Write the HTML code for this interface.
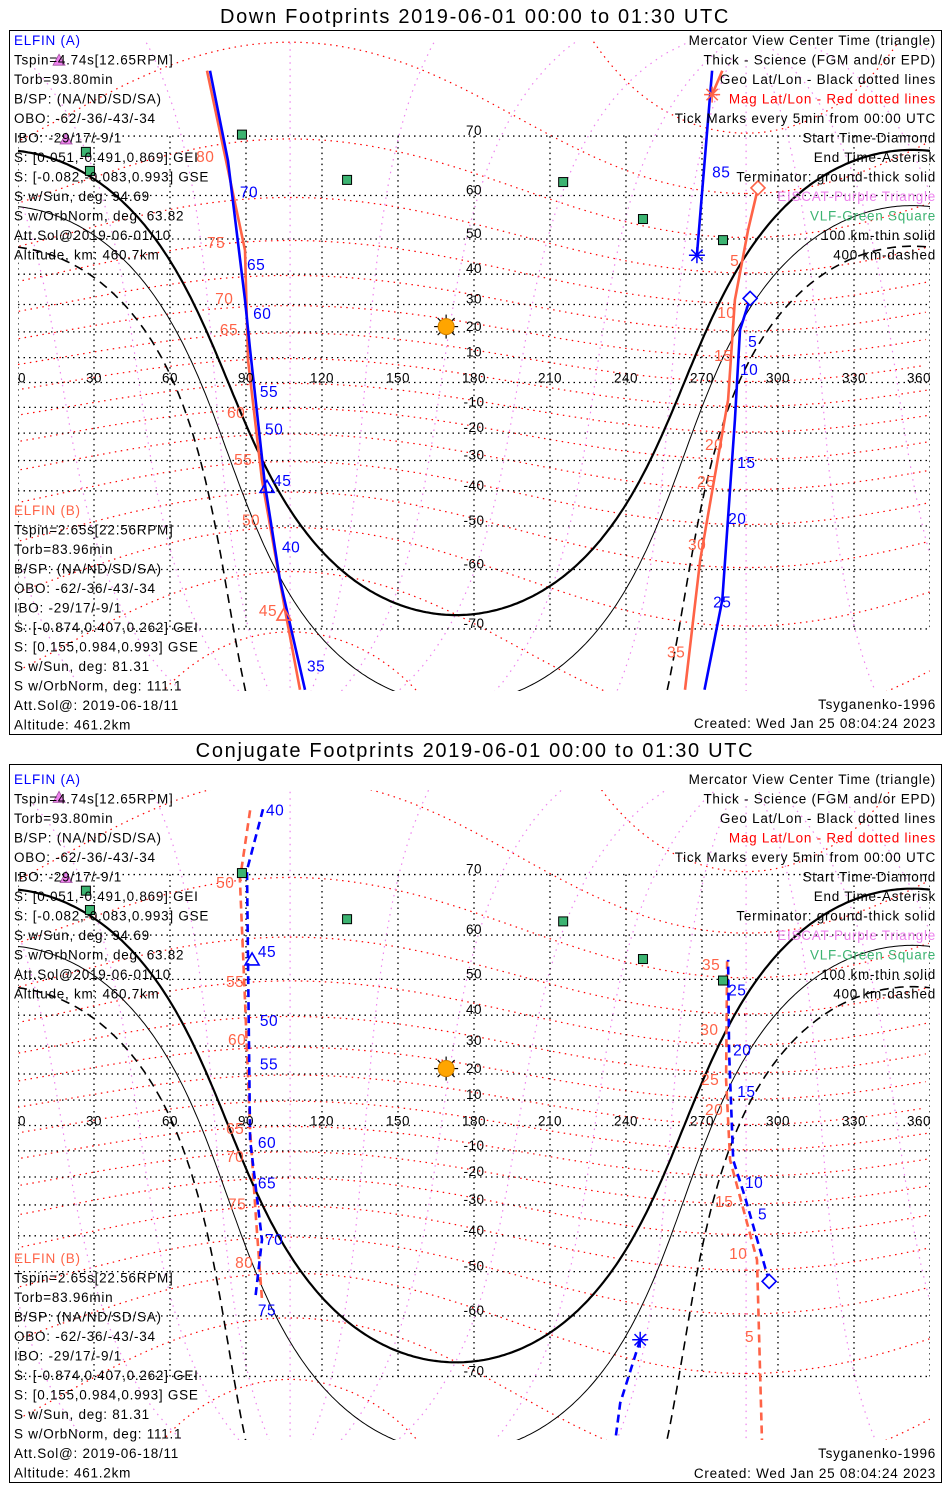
<!DOCTYPE html>
<html><head><meta charset="utf-8">
<style>
html,body{margin:0;padding:0;background:#fff;width:950px;height:1500px;overflow:hidden;}
svg{display:block;font-family:"Liberation Sans",sans-serif;}
</style></head>
<body>
<svg id="chart" width="950" height="1500" viewBox="0 0 950 1500" xmlns="http://www.w3.org/2000/svg">
<rect x="0" y="0" width="950" height="1500" fill="#fff"/>
<text x="475" y="23" font-size="20" letter-spacing="1.7" text-anchor="middle">Down Footprints 2019-06-01 00:00 to 01:30 UTC</text>
<text x="475" y="757" font-size="20" letter-spacing="1.7" text-anchor="middle">Conjugate Footprints 2019-06-01 00:00 to 01:30 UTC</text>
<rect x="9.5" y="30.5" width="932" height="704" fill="none" stroke="#000"/>
<rect x="9.5" y="764.5" width="932" height="718" fill="none" stroke="#000"/>
<defs>
<clipPath id="clipTop"><rect x="18" y="40" width="912" height="651"/></clipPath>
<clipPath id="clipBot"><rect x="18" y="790" width="912" height="650"/></clipPath>
</defs>
<g id="mapTop" clip-path="url(#clipTop)"></g>
<g id="mapBot" clip-path="url(#clipBot)"></g>
<g id="overTop"></g>
<g id="overBot"></g>
<g id="texts"></g>
</svg>
<script>
// ---------- data ----------
const lonTicks = [0,30,60,90,120,150,180,210,240,270,300,330,360];
const latTicks = [70,60,50,40,30,20,10,0,-10,-20,-30,-40,-50,-60,-70];
const sunLon = 169, sunLat = 22;
const termLon = 173, sunDecl = 22;
const termDips = [0, 10.1, 19.9]; // ground, 100 km, 400 km
const magLats = [-80,-70,-60,-50,-40,-30,-20,-10,0,10,20,30,40,50,60,70,80];
const magLons = [0,30,60,90,120,150,180,210,240,270,300,330];
const stationLon = [88.4,26.8,28.4,129.9,215.2,246.7,278.3];
const stationLat = [70.2,67.7,64.6,63.0,62.6,54.9,49.7];
const eiscatLon = [16.2,19.0];
const eiscatLat = [78.2,69.6];

// Down footprints, ELFIN A
const dA1Lon = [75.8,82.9,89.6,91.6,97.5,103.4,113.3];
const dA1Lat = [77.3,66.3,31.6,13.1,-38.2,-62,-76.9];
const dA1TickLon = [87.6,90.4,92.8,95.5,97.5,100.7,104.2,114.1];
const dA1TickLat = [60.6,42.8,26.6,-3.8,-18.7,-36.9,-55.3,-74.6];
const dA1Labels = ["70","65","60","55","50","45","40","35"];
const dA2Lon = [274,268];
const dA2Lat = [77.3,45.6];
const dA2TickLon = [274]; const dA2TickLat = [64.3]; const dA2Labels = ["85"];
const dA3Lon = [289,285,283,278,271];
const dA3Lat = [32.1,20.7,-15,-65.6,-76.9];
const dA3TickLon = [288.2,285,283.9,280.3,274.4];
const dA3TickLat = [16.2,5,-30.9,-48.2,-66];
const dA3Labels = ["5","10","15","20","25"];
const dACenter = [98.3,-38.9];
// Down footprints, ELFIN B
const dB1Lon = [74.6,89.6,90.8,96.3,105.4,111.3];
const dB1Lat = [77.3,47,9.1,-36.6,-67.2,-76.9];
const dB1TickLon = [70.3,74.6,77.8,79.7,82.5,85.3,88.4,95.1];
const dB1TickLat = [66.9,48.9,31.9,20.7,-12.2,-29.8,-48.5,-67.4];
const dB1Labels = ["80","75","70","65","60","55","50","45"];
const dB2Lon = [292.1,288.2,283,280.3,269.3,263.3];
const dB2Lat = [61.5,52.3,31.6,-7,-58,-76.9];
const dB2TickLon = [281.1,276,274.8,271.2,268.1,264.5,256.2];
const dB2TickLat = [43.9,27,10.7,-24.4,-37.2,-54.7,-73];
const dB2Labels = ["5","10","15","20","25","30","35"];
const dB3Lon = [278,274]; const dB3Lat = [77.3,75];
const dBCenter = [105,-68];

// Conjugate footprints, ELFIN A
const cA1Lon = [96.7,90.4,90.8,91.6,96.3,93.6];
const cA1Lat = [77.2,70.6,54.7,-5.7,-41.2,-56.7];
const cA1TickLon = [97.9,94.7,95.5,95.5,94.7,94.7,97.5,94.7];
const cA1TickLat = [77.1,56.5,38.2,23.5,-6.9,-22.4,-41.2,-58.9];
const cA1Labels = ["40","45","50","55","60","65","70","75"];
const cA2Lon = [296.5,287,282.3,280.7,280.3];
const cA2Lat = [-52.4,-27.4,-13.6,27.8,54.7];
const cA2TickLon = [292.1,287,283.9,282.3,280.3];
const cA2TickLat = [-33.2,-22.2,13.2,28.4,47.1];
const cA2Labels = ["5","10","15","20","25"];
const cA3Lon = [245.6,237.7,235.7];
const cA3Lat = [-64.4,-73.3,-77.2];
const cACenter = [92.4,54.7];
// Conjugate footprints, ELFIN B
const cB1Lon = [91.6,87.6,89.6,91.6,94,96.3];
const cB1Lat = [77.1,69.3,44.3,-1.8,-35,-56.7];
const cB1TickLon = [78.2,82.1,82.9,82.1,82.1,82.9,85.7];
const cB1TickLat = [68.8,49.3,32.1,-1.4,-12.4,-29.9,-47.8];
const cB1Labels = ["50","55","60","65","70","75","80"];
const cB2Lon = [279.9,279.5,281.1,291.7,293.7];
const cB2Lat = [54.4,17.8,-13.6,-46.9,-77.2];
const cB2TickLon = [270,269.3,269.6,271.2,275.2,280.7,287];
const cB2TickLat = [53.5,35.4,17.8,6.1,-29,-45.3,-63.9];
const cB2Labels = ["35","30","25","20","15","10","5"];

// ---------- helpers ----------
const NS='http://www.w3.org/2000/svg';
const D=Math.PI/180;
function mk(tag,attrs,parent){const e=document.createElementNS(NS,tag);for(const k in attrs)e.setAttribute(k,attrs[k]);if(parent)parent.appendChild(e);return e;}
const panels={
  top:{eq:382.5,R:142,map:document.getElementById('mapTop'),over:document.getElementById('overTop')},
  bot:{eq:1125.5,R:144.6,map:document.getElementById('mapBot'),over:document.getElementById('overBot')}
};
function xOf(lon){return 18+lon*2.5333;}
function yOf(p,lat){const l=Math.max(-89,Math.min(89,lat));return p.eq-p.R*Math.log(Math.tan(Math.PI/4+l*D/2));}
function polyPath(p,lons,lats,breakWrap){
  let d='',prev=null;
  for(let i=0;i<lons.length;i++){
    if(lons[i]===null){prev=null;continue;}
    const x=xOf(lons[i]),y=yOf(p,lats[i]);
    if(prev===null||(breakWrap&&Math.abs(lons[i]-prev)>180))d+='M'+x.toFixed(1)+' '+y.toFixed(1);
    else d+='L'+x.toFixed(1)+' '+y.toFixed(1);
    prev=lons[i];
  }
  return d;
}
function magToGeo(mlat,mlon){
  const x=Math.cos(mlat*D)*Math.cos(mlon*D),y=Math.cos(mlat*D)*Math.sin(mlon*D),z=Math.sin(mlat*D);
  const th=(90-80.4)*D;
  const x1=x*Math.cos(th)+z*Math.sin(th),z1=-x*Math.sin(th)+z*Math.cos(th);
  const ph=287.4*D;
  const x2=x1*Math.cos(ph)-y*Math.sin(ph),y2=x1*Math.sin(ph)+y*Math.cos(ph);
  let lon=Math.atan2(y2,x2)/D;if(lon<0)lon+=360;
  return [lon,Math.asin(z1)/D];
}
function drawPanel(key){
  const p=panels[key],g=p.map;
  magLats.forEach(ml=>{
    const lo=[],la=[];
    for(let m=0;m<=360;m+=2){const r=magToGeo(ml,m);lo.push(r[0]);la.push(r[1]);}
    const e=mk('path',{d:polyPath(p,lo,la,true),fill:'none',stroke:'#ff0000','stroke-width':1.2,'stroke-dasharray':'1.5,4.5'},g);
    
    
  });
  magLons.forEach(mn=>{
    const lo=[],la=[];
    for(let m=-88;m<=88;m+=2){const r=magToGeo(m,mn);lo.push(r[0]);la.push(r[1]);}
    const e=mk('path',{d:polyPath(p,lo,la,true),fill:'none',stroke:'#ee82ee','stroke-width':1.2,'stroke-dasharray':'1.5,5'},g);
    
    
  });
  const y70=yOf(p,70),ym70=yOf(p,-70);
  lonTicks.forEach(l=>{
    const e=mk('line',{x1:xOf(l),x2:xOf(l),y1:y70,y2:ym70,stroke:'#000','stroke-width':1.3,'stroke-dasharray':'1.5,4'},g);
    
    
  });
  latTicks.forEach(l=>{
    const e=mk('line',{x1:18,x2:930,y1:yOf(p,l),y2:yOf(p,l),stroke:'#000','stroke-width':1.3,'stroke-dasharray':'1.5,4'},g);
    
    
  });
  termDips.forEach((dip,i)=>{
    const lo=[],la=[];
    const a=Math.sin(sunDecl*D),c=-Math.sin(dip*D);
    for(let l=0;l<=360;l+=1){
      const b=Math.cos(sunDecl*D)*Math.cos((l-termLon)*D);
      const r=Math.hypot(a,b);
      if(Math.abs(c)>r){lo.push(null);la.push(null);continue;}
      const al=Math.atan2(b,a),s=Math.asin(c/r);
      let cands=[s-al,Math.PI-s-al].map(x=>{while(x>Math.PI)x-=2*Math.PI;while(x<-Math.PI)x+=2*Math.PI;return x;});
      const x=cands.find(v=>Math.abs(v)<=Math.PI/2+1e-9);
      if(x===undefined){lo.push(null);la.push(null);continue;}
      lo.push(l);la.push(x/D);
    }
    const st={fill:'none',stroke:'#000','stroke-width':i===0?2.2:(i===1?1:1.6)};
    if(i===2)st['stroke-dasharray']='9,6';
    st.d=polyPath(p,lo,la,false);
    const e=mk('path',st,g);
    
    
  });
  lonTicks.forEach((l,i)=>{
    const e=mk('text',{x:i===0?xOf(l):(i===12?xOf(l)-11:xOf(l)),y:p.eq,'text-anchor':i===0?'start':'middle','font-size':13.5,'letter-spacing':0.5},p.over);
    e.textContent=l;
    
    
  });
  latTicks.forEach(l=>{
    if(l===0)return;
    const e=mk('text',{x:xOf(180),y:yOf(p,l)-1,'text-anchor':'middle','font-size':13.5,'letter-spacing':0.5},p.over);
    e.textContent=l;
    
    
  });
  stationLon.forEach((l,i)=>{
    const x=xOf(l),y=yOf(p,stationLat[i]);
    const e=mk('rect',{x:x-4.5,y:y-4.5,width:9,height:9,fill:'#3cb371',stroke:'#000','stroke-width':1},p.over);
    
    
  });
  eiscatLon.forEach((l,i)=>{
    const x=xOf(l),y=yOf(p,eiscatLat[i]);
    const e=mk('polygon',{points:`${x},${y-6} ${x-6},${y+5} ${x+6},${y+5}`,fill:'#ee82ee',stroke:'#a050a0','stroke-width':0.8},p.over);
    
    
  });
  const sx=xOf(sunLon),sy=yOf(p,sunLat);
  const sun=mk('g',{},p.over);
  
  
  for(let k=0;k<8;k++){const an=k*Math.PI/4;mk('line',{x1:sx+7*Math.cos(an),y1:sy+7*Math.sin(an),x2:sx+12*Math.cos(an),y2:sy+12*Math.sin(an),stroke:'#000','stroke-width':1.2},sun);}
  mk('circle',{cx:sx,cy:sy,r:8,fill:'#ffa500',stroke:'#d08000','stroke-width':1},sun);
}
function track(key,lons,lats,color,dashed,name){
  const p=panels[key];
  const a={d:polyPath(p,lons,lats,false),fill:'none',stroke:color,'stroke-width':2.6};
  if(dashed)a['stroke-dasharray']='8,5';
  const e=mk('path',a,p.map);
  
  
}
function ticks(key,lons,lats,labels,color){
  const p=panels[key];
  labels.forEach((t,i)=>{
    const e=mk('text',{x:xOf(lons[i]),y:yOf(p,lats[i])+5,fill:color,'font-size':15.5,'letter-spacing':0.5},p.over);
    e.textContent=t;
    
    
  });
}
function diamond(key,lon,lat,color){
  const p=panels[key],x=xOf(lon),y=yOf(p,lat);
  const e=mk('polygon',{points:`${x},${y-7} ${x+7},${y} ${x},${y+7} ${x-7},${y}`,fill:'#fff',stroke:color,'stroke-width':1.6},p.over);
  
  
}
function asterisk(key,lon,lat,color){
  const p=panels[key],x=xOf(lon),y=yOf(p,lat);
  const g=mk('g',{stroke:color,'stroke-width':1.5},p.over);
  
  
  for(let k=0;k<4;k++){const an=k*Math.PI/4;mk('line',{x1:x-8*Math.cos(an),y1:y-8*Math.sin(an),x2:x+8*Math.cos(an),y2:y+8*Math.sin(an)},g);}
}
function tri(key,lon,lat,color){
  const p=panels[key],x=xOf(lon),y=yOf(p,lat);
  const e=mk('polygon',{points:`${x},${y-7} ${x-7},${y+5} ${x+7},${y+5}`,fill:'none',stroke:color,'stroke-width':1.6},p.over);
  
  
}
drawPanel('top');drawPanel('bot');
const BL='#0000ff',RD='#ff6347';
track('top',dB1Lon,dB1Lat,RD,false,'elfin-b-track');
track('top',dB2Lon,dB2Lat,RD,false,'elfin-b-track');
track('top',dB3Lon,dB3Lat,RD,false,'elfin-b-track');
track('top',dA1Lon,dA1Lat,BL,false,'elfin-a-track');
track('top',dA2Lon,dA2Lat,BL,false,'elfin-a-track');
track('top',dA3Lon,dA3Lat,BL,false,'elfin-a-track');
ticks('top',dA1TickLon,dA1TickLat,dA1Labels,BL);
ticks('top',dA2TickLon,dA2TickLat,dA2Labels,BL);
ticks('top',dA3TickLon,dA3TickLat,dA3Labels,BL);
ticks('top',dB1TickLon,dB1TickLat,dB1Labels,RD);
ticks('top',dB2TickLon,dB2TickLat,dB2Labels,RD);
diamond('top',dA3Lon[0],dA3Lat[0],BL);
diamond('top',dB2Lon[0],dB2Lat[0],RD);
asterisk('top',dA2Lon[1],dA2Lat[1],BL);
asterisk('top',dB3Lon[1],dB3Lat[1],RD);
tri('top',dACenter[0],dACenter[1],BL);
tri('top',dBCenter[0],dBCenter[1],RD);
track('bot',cB1Lon,cB1Lat,RD,true,'elfin-b-track');
track('bot',cB2Lon,cB2Lat,RD,true,'elfin-b-track');
track('bot',cA1Lon,cA1Lat,BL,true,'elfin-a-track');
track('bot',cA2Lon,cA2Lat,BL,true,'elfin-a-track');
track('bot',cA3Lon,cA3Lat,BL,true,'elfin-a-track');
ticks('bot',cA1TickLon,cA1TickLat,cA1Labels,BL);
ticks('bot',cA2TickLon,cA2TickLat,cA2Labels,BL);
ticks('bot',cB1TickLon,cB1TickLat,cB1Labels,RD);
ticks('bot',cB2TickLon,cB2TickLat,cB2Labels,RD);
diamond('bot',cA2Lon[0],cA2Lat[0],BL);
asterisk('bot',cA3Lon[0],cA3Lat[0],BL);
tri('bot',cACenter[0],cACenter[1],BL);

// ---------- text blocks ----------
const leftA=["Tspin=4.74s[12.65RPM]","Torb=93.80min","B/SP: (NA/ND/SD/SA)","OBO: -62/-36/-43/-34","IBO: -29/17/-9/1","S: [0.051,-0.491,0.869] GEI","S: [-0.082,-0.083,0.993] GSE","S w/Sun, deg: 94.69","S w/OrbNorm, deg: 63.82","Att.Sol@2019-06-01/10","Altitude, km: 460.7km"];
const leftB=["Tspin=2.65s[22.56RPM]","Torb=83.96min","B/SP: (NA/ND/SD/SA)","OBO: -62/-36/-43/-34","IBO: -29/17/-9/1","S: [-0.874,0.407,0.262] GEI","S: [0.155,0.984,0.993] GSE","S w/Sun, deg: 81.31","S w/OrbNorm, deg: 111.1","Att.Sol@: 2019-06-18/11","Altitude: 461.2km"];
const rightT=[["Mercator View Center Time (triangle)","#000"],["Thick - Science (FGM and/or EPD)","#000"],["Geo Lat/Lon - Black dotted lines","#000"],["Mag Lat/Lon - Red dotted lines","#ff0000"],["Tick Marks every 5min from 00:00 UTC","#000"],["Start Time-Diamond","#000"],["End Time-Asterisk","#000"],["Terminator: ground-thick solid","#000"],["EISCAT-Purple Triangle","#ee82ee"],["VLF-Green Square","#3cb371"],["100 km-thin solid","#000"],["400 km-dashed","#000"]];
const TX=document.getElementById('texts');
function txt(x,y,s,color,anchor,name){
  const e=mk('text',{x:x,y:y,fill:color,'font-size':13.5,'letter-spacing':0.75,'text-anchor':anchor||'start'},TX);
  e.textContent=s;
  
  
}
[[45,515,709,728],[784,1263,1458,1478]].forEach(o=>{
  txt(14,o[0],"ELFIN (A)",BL,'start','elfin-a-title');
  leftA.forEach((s,i)=>txt(14,o[0]+19.5*(i+1),s,'#000','start','elfin-a-info'));
  txt(14,o[1],"ELFIN (B)",RD,'start','elfin-b-title');
  leftB.forEach((s,i)=>txt(14,o[1]+19.5*(i+1),s,'#000','start','elfin-b-info'));
  rightT.forEach((s,i)=>txt(936,o[0]+19.5*i,s[0],s[1],'end','legend-entry'));
  txt(936,o[2],"Tsyganenko-1996",'#000','end','model-name');
  txt(936,o[3],"Created: Wed Jan 25 08:04:24 2023",'#000','end','created-date');
});
</script>
</body></html>
